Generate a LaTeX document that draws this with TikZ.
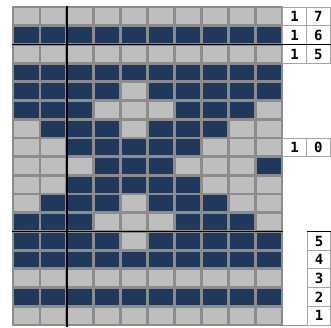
\documentclass[tikz,border=0pt]{standalone}
\usepackage{fontspec}
\newfontfamily\pixfont{DejaVu Sans Mono}
\definecolor{dk}{RGB}{31,56,92}
\definecolor{lt}{RGB}{190,190,190}
\definecolor{gl}{RGB}{140,140,140}
\definecolor{lb}{RGB}{165,165,165}
\newcommand\cellrow[2]{%
  \foreach \v [count=\c from 0] in {#2}{%
    \ifnum\v=1 \def\cc{dk}\else\def\cc{lt}\fi
    \fill[\cc] (13+\c*26.9+1.4, 7+#1*18.7+1.4) rectangle ++(24.1,15.9);
  }}
\tikzset{
  lbl/.style={font=\pixfont\bfseries\fontsize{14}{14}\selectfont, inner sep=0pt, text=black},
  lbox/.style={draw=lb, fill=white, line width=0.8pt},
  thick line/.style={draw=black, line width=1.6pt}
}
\begin{document}
\begin{tikzpicture}[x=1pt,y=-1pt]
\useasboundingbox (0,0) rectangle (331,327);
\fill[white] (0,0) rectangle (331,327);
% grid background
\fill[gl] (12.3,6.3) rectangle (282.6,325.6);
\cellrow{0}{0,0,0,0,0,0,0,0,0,0}
\cellrow{1}{1,1,1,1,1,1,1,1,1,1}
\cellrow{2}{0,0,0,0,0,0,0,0,0,0}
\cellrow{3}{1,1,1,1,1,1,1,1,1,1}
\cellrow{4}{1,1,1,1,0,1,1,1,1,1}
\cellrow{5}{1,1,1,0,0,0,1,1,1,0}
\cellrow{6}{0,1,1,1,0,1,1,1,0,0}
\cellrow{7}{0,0,1,1,1,1,1,0,0,0}
\cellrow{8}{0,0,0,1,1,1,0,0,0,1}
\cellrow{9}{0,0,1,1,1,1,1,0,0,0}
\cellrow{10}{0,1,1,1,0,1,1,1,0,0}
\cellrow{11}{1,1,1,0,0,0,1,1,1,0}
\cellrow{12}{1,1,1,1,0,1,1,1,1,1}
\cellrow{13}{1,1,1,1,1,1,1,1,1,1}
\cellrow{14}{0,0,0,0,0,0,0,0,0,0}
\cellrow{15}{1,1,1,1,1,1,1,1,1,1}
\cellrow{16}{0,0,0,0,0,0,0,0,0,0}
% bottom rule
\draw[gl, line width=1.2pt] (12.3,325.6) -- (331,325.6);
% top label boxes
\foreach \r/\a/\b in {0/1/7, 1/1/6, 2/1/5, 7/1/0}{
  \draw[lbox] (282.6,7+\r*18.7) rectangle (306.5,7+\r*18.7+18.7);
  \draw[lbox] (306.5,7+\r*18.7) rectangle (330.4,7+\r*18.7+18.7);
  \node[lbl] (la\r) at (294.5,7+\r*18.7+9.6) {\a};
  \node[lbl] (lb\r) at (318.4,7+\r*18.7+9.6) {\b};
}
% bottom label boxes
\foreach \r/\t in {12/5, 13/4, 14/3, 15/2, 16/1}{
  \draw[lbox] (307.8,7+\r*18.7) rectangle (330.4,7+\r*18.7+18.7);
  \node[lbl] (lc\r) at (319.1,7+\r*18.7+9.6) {\t};
}
% thick lines
\draw[thick line] (66.8,6) -- (66.8,327);
\draw[thick line] (12.3,44.4) -- (331,44.4);
\draw[thick line] (12.3,231.4) -- (282.6,231.4);
\draw[thick line] (307,231.4) -- (331,231.4);
\end{tikzpicture}
\end{document}
